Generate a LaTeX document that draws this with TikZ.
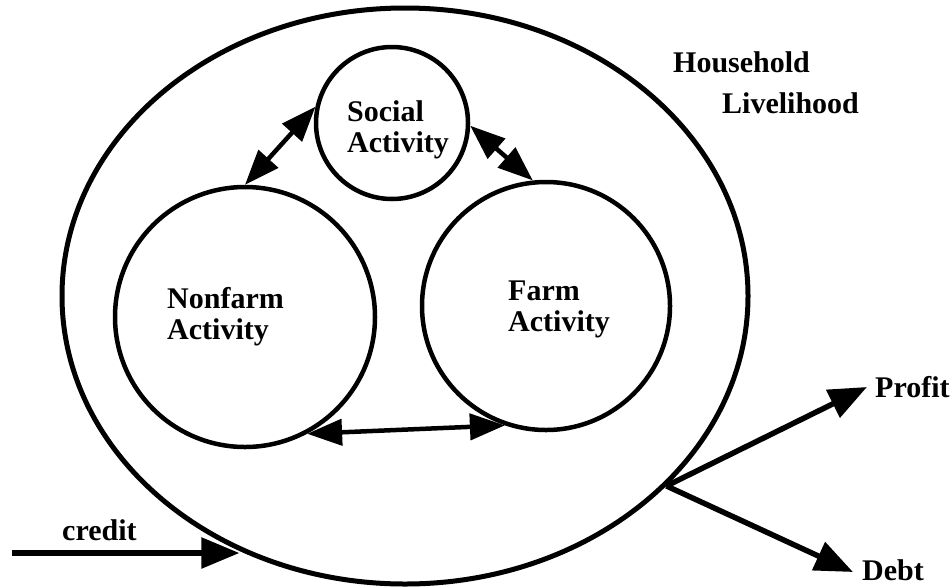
\documentclass[tikz,border=0pt]{standalone}
\usepackage{fontspec}
\setmainfont{Liberation Serif}
\usetikzlibrary{shapes.geometric,arrows.meta}
\begin{document}
\begin{tikzpicture}[x=1pt,y=-1pt,
  ring/.style={circle,draw,line width=4.5pt,inner sep=0pt},
  lbl/.style={inner sep=0pt,font=\fontsize{30}{31}\selectfont\bfseries,align=left},
  link/.style={line width=4.5pt,{Triangle[length=35pt,width=26pt]}-{Triangle[length=35pt,width=26pt]}},
  flow/.style={line width=5.5pt,-{Triangle[length=38pt,width=30pt]}}]
  \fill[white] (0,0) rectangle (952,587);
  \useasboundingbox (0,0) rectangle (952,587);

  % household boundary and the three activities
  \node[ellipse,draw,line width=5pt,inner sep=0pt,minimum width=686pt,minimum height=576pt] (hh) at (405,296) {};
  \node[ring,minimum size=152pt] (soc) at (392,123) {};
  \node[ring,minimum size=260pt] (nf) at (245,317) {};
  \node[ring,minimum size=248pt] (farm) at (546,306) {};

  % labels
  \node[lbl,anchor=west] (soct) at (347,130) {Social\\Activity};
  \node[lbl,anchor=west] (nft) at (167,317) {Nonfarm\\Activity};
  \node[lbl,anchor=west] (farmt) at (508,309) {Farm\\Activity};
  \node[lbl,anchor=base west] (hht) at (673,72) {Household};
  \node[lbl,anchor=base west] (lvt) at (722,113) {Livelihood};

  % links between activities
  \draw[link] (soc.168) -- (nf.90);
  \draw[link] (soc.-2) -- (farm.96);
  \draw[link] (nf.-62) -- (farm.-109);

  % inflow and outflows
  \coordinate (cstart) at (12,553);
  \draw[flow] (cstart) -- (cstart -| hh.-123);
  \node[lbl,anchor=base west] (credt) at (62,540) {credit};

  \coordinate (profit) at (867,387);
  \coordinate (debt) at (853,572);
  \draw[flow] (hh.-36) -- (profit);
  \draw[flow] (hh.-36) -- (debt);
  \node[lbl,anchor=base west] (proft) at (875,397) {Profit};
  \node[lbl,anchor=base west] (debtt) at (862,580) {Debt};
\end{tikzpicture}
\end{document}
